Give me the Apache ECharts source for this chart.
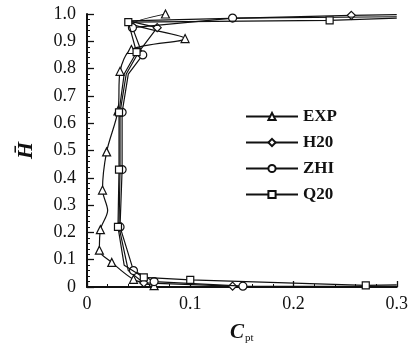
<!DOCTYPE html>
<html>
<head>
<meta charset="utf-8">
<script src="https://cdn.jsdelivr.net/npm/echarts@6/dist/echarts.min.js"></script>
<style>html,body{margin:0;padding:0;background:#fff}#c{width:411px;height:350px}</style>
</head>
<body>
<div id="c"></div>
<script>
// Data (x = Cpt, y = H-bar); mark flag: 1 = symbol drawn
const seriesNames = ['EXP', 'H20', 'ZHI', 'Q20'];
const xTicks = [0, 0.1, 0.2, 0.3];
const yTicks = [0, 0.1, 0.2, 0.3, 0.4, 0.5, 0.6, 0.7, 0.8, 0.9, 1.0];

const expX = [0.065, 0.045, 0.024, 0.012, 0.013, 0.020, 0.015, 0.019, 0.030, 0.032, 0.043, 0.095, 0.045, 0.076];
const expY = [0.005, 0.028, 0.090, 0.135, 0.210, 0.280, 0.355, 0.495, 0.645, 0.790, 0.870, 0.910, 0.965, 1.000];
const expMark = [1, 1, 1, 1, 1, 0, 1, 1, 1, 1, 1, 1, 0, 1];

const h20X = [0.300, 0.141, 0.055, 0.040, 0.031, 0.032, 0.032, 0.038, 0.050, 0.068, 0.040, 0.256, 0.300];
const h20Y = [0.002, 0.003, 0.015, 0.060, 0.220, 0.430, 0.640, 0.780, 0.860, 0.950, 0.975, 0.995, 0.998];
const h20Mark = [0, 1, 1, 0, 1, 1, 1, 0, 1, 1, 0, 1, 0];

const zhiX = [0.151, 0.065, 0.045, 0.032, 0.034, 0.034, 0.040, 0.054, 0.044, 0.141, 0.300];
const zhiY = [0.003, 0.020, 0.060, 0.220, 0.430, 0.640, 0.780, 0.850, 0.950, 0.985, 0.990];
const zhiMark = [1, 1, 1, 1, 1, 1, 0, 1, 1, 1, 0];

const q20X = [0.300, 0.270, 0.100, 0.055, 0.036, 0.030, 0.031, 0.031, 0.036, 0.048, 0.040, 0.235, 0.300];
const q20Y = [0.008, 0.006, 0.026, 0.035, 0.080, 0.220, 0.430, 0.640, 0.780, 0.860, 0.970, 0.977, 0.985];
const q20Mark = [0, 1, 1, 1, 0, 1, 1, 1, 0, 1, 1, 1, 0];

const symbols = ['triangle', 'diamond', 'circle', 'rect'];
const symbolSizes = [8, 8, 8, 7];
const allX = [expX, h20X, zhiX, q20X];
const allY = [expY, h20Y, zhiY, q20Y];
const allMark = [expMark, h20Mark, zhiMark, q20Mark];

function build(i) {
  return allX[i].map((x, k) => {
    const item = { value: [x, allY[i][k]] };
    if (!allMark[i][k]) item.symbol = 'none';
    return item;
  });
}

const serif = '"Liberation Serif", "DejaVu Serif", serif';
const chart = echarts.init(document.getElementById('c'), null, { renderer: 'canvas' });
chart.setOption({
  backgroundColor: '#fff',
  animation: false,
  grid: { left: 87, right: 13, top: 14, bottom: 63, containLabel: false },
  legend: {
    orient: 'vertical',
    left: 240,
    top: 103,
    itemWidth: 52,
    itemHeight: 9,
    itemGap: 9,
    data: seriesNames,
    textStyle: { fontFamily: serif, fontWeight: 'bold', fontSize: 17, color: '#111' }
  },
  xAxis: {
    type: 'value',
    min: xTicks[0],
    max: xTicks[xTicks.length - 1],
    interval: 0.1,
    name: '{i|C}{s|pt}',
    nameLocation: 'middle',
    nameGap: 34,
    nameTextStyle: {
      rich: {
        i: { fontFamily: serif, fontStyle: 'italic', fontWeight: 'bold', fontSize: 21, color: '#111' },
        s: { fontFamily: serif, fontSize: 11, color: '#111', padding: [12, 0, 0, 1] }
      }
    },
    axisLine: { show: true, lineStyle: { color: '#111', width: 2 } },
    axisTick: { show: true, inside: true, length: 6, lineStyle: { color: '#111', width: 1.3 } },
    minorTick: { show: true, splitNumber: 5, length: 3, lineStyle: { color: '#111', width: 1 } },
    splitLine: { show: false },
    axisLabel: {
      fontFamily: serif, fontSize: 18, color: '#111', margin: 8,
      formatter: v => (v === 0 ? '0' : v.toFixed(1))
    }
  },
  yAxis: {
    type: 'value',
    min: yTicks[0],
    max: yTicks[yTicks.length - 1],
    interval: 0.1,
    name: 'H\u0304',
    nameLocation: 'middle',
    nameGap: 50,
    nameRotate: 90,
    nameTextStyle: { fontFamily: serif, fontStyle: 'italic', fontWeight: 'bold', fontSize: 22, color: '#111' },
    axisLine: { show: true, lineStyle: { color: '#111', width: 2 } },
    axisTick: { show: true, inside: true, length: 7, lineStyle: { color: '#111', width: 1.3 } },
    minorTick: { show: true, splitNumber: 5, length: 3, lineStyle: { color: '#111', width: 1 } },
    splitLine: { show: false },
    axisLabel: {
      fontFamily: serif, fontSize: 18, color: '#111', margin: 11,
      formatter: v => (v === 0 ? '0' : v.toFixed(1))
    }
  },
  series: seriesNames.map((name, i) => ({
    name: name,
    type: 'line',
    data: build(i),
    symbol: symbols[i],
    symbolSize: symbolSizes[i],
    showAllSymbol: true,
    smooth: i === 0 ? 0.3 : false,
    lineStyle: { color: '#111', width: 1.2 },
    itemStyle: { color: '#fff', borderColor: '#111', borderWidth: 1.2 },
    z: 2 + i
  }))
});
</script>
</body>
</html>
